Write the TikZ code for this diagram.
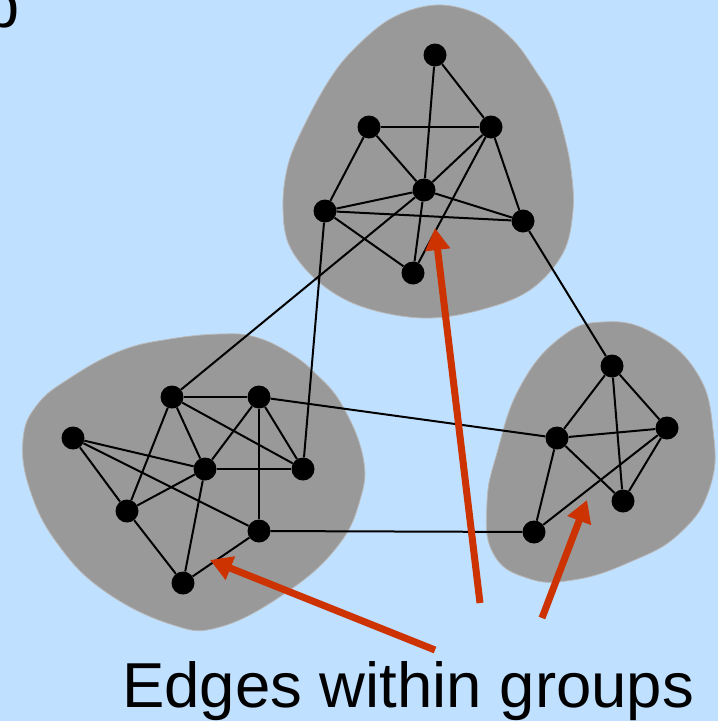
\documentclass[tikz,border=0pt]{standalone}
\usepackage{fontspec}
\setmainfont{Liberation Sans}
\usetikzlibrary{arrows.meta}
\definecolor{bgblue}{RGB}{192,224,255}
\definecolor{grpgray}{RGB}{153,153,153}
\definecolor{arrred}{RGB}{204,51,0}
\tikzset{
  dot/.style={circle,fill=black,inner sep=0pt,minimum size=23pt},
  edge/.style={draw=black,line width=2pt},
  grp/.style={fill=grpgray,draw=grpgray!70!white,line width=0.8pt},
  redarrow/.style={draw=arrred,line width=7pt,-{Triangle[length=22pt,width=24pt]}},
}
\begin{document}
\begin{tikzpicture}[x=1pt,y=-1pt]
\useasboundingbox (0,0) rectangle (718,721);
\clip (0,0) rectangle (718,721);
\fill[bgblue] (0,0) rectangle (718,721);

% partly visible letter at top-left
\node[anchor=base west,inner sep=0pt,font=\fontsize{63}{70}\selectfont] (blabel) at (-16,27) {b};

% groups
\path[grp] plot[smooth cycle,tension=0.6] coordinates {
 (437,5) (480,15) (513,40) (537,73) (553,100) (564,135) (571,170) (573,210) (563,253)
 (530,290) (480,310) (423,318) (363,307) (320,283) (290,247) (283,207) (288,165)
 (303,128) (328,82) (353,50) (392,18)};
\path[grp] plot[smooth cycle,tension=0.7] coordinates {
 (222,334) (255,337) (288,352) (315,373) (342,405) (363,457) (360,500) (337,547) (287,592)
 (220,627) (170,624) (103,590) (57,543) (30,490) (23,440) (37,405) (70,378) (120,351) (170,339)};
\path[grp] plot[smooth cycle,tension=0.75] coordinates {
 (603,322) (653,333) (697,373) (713,430) (710,487) (680,533) (630,562) (573,580)
 (527,578) (493,553) (487,503) (497,453) (520,387) (560,338)};

% top group nodes
\node[dot] (T1) at (435,55) {};
\node[dot] (T2) at (369,127) {};
\node[dot] (T3) at (491,127) {};
\node[dot] (T4) at (424,190) {};
\node[dot] (T5) at (325,211) {};
\node[dot] (T6) at (523,221) {};
\node[dot] (T7) at (413,273) {};
% left group nodes
\node[dot] (L1) at (73,438) {};
\node[dot] (L2) at (172,397) {};
\node[dot] (L3) at (259,397) {};
\node[dot] (L4) at (205,469) {};
\node[dot] (L5) at (303,469) {};
\node[dot] (L6) at (127,511) {};
\node[dot] (L7) at (259,531) {};
\node[dot] (L8) at (183,583) {};
% right group nodes
\node[dot] (R1) at (612,366) {};
\node[dot] (R2) at (557,438) {};
\node[dot] (R3) at (667,428) {};
\node[dot] (R4) at (534,532) {};
\node[dot] (R5) at (623,501) {};

% edges
\foreach \a/\b in {T1/T4,T1/T3,T2/T3,T2/T5,T2/T4,T3/T4,T3/T6,T3/T7,T4/T5,T4/T6,T5/T6,T5/T7,T4/T7,
  L2/L3,L2/L4,L2/L5,L2/L6,L3/L4,L3/L5,L3/L7,L1/L4,L1/L6,L1/L7,L4/L5,L4/L6,L4/L8,L6/L8,L7/L8,
  R1/R2,R1/R3,R1/R5,R2/R3,R2/R4,R2/R5,R3/R4,R3/R5,
  T4/L2,T5/L5,T6/R1,L3/R2,L7/R4}
  \draw[edge] (\a) -- (\b);

% arrows
\coordinate (a1s) at (480,603);
\coordinate (a1e) at (435,228);
\coordinate (a2s) at (542,618);
\coordinate (a2e) at (587,500);
\coordinate (a3s) at (435,650);
\coordinate (a3e) at (210,560);
\draw[redarrow] (a1s) -- (a1e);
\draw[redarrow] (a2s) -- (a2e);
\draw[redarrow] (a3s) -- (a3e);

\node[anchor=base west,inner sep=0pt,font=\fontsize{63.5}{70}\selectfont] (caption) at (122,707) {Edges within groups};
\end{tikzpicture}
\end{document}
